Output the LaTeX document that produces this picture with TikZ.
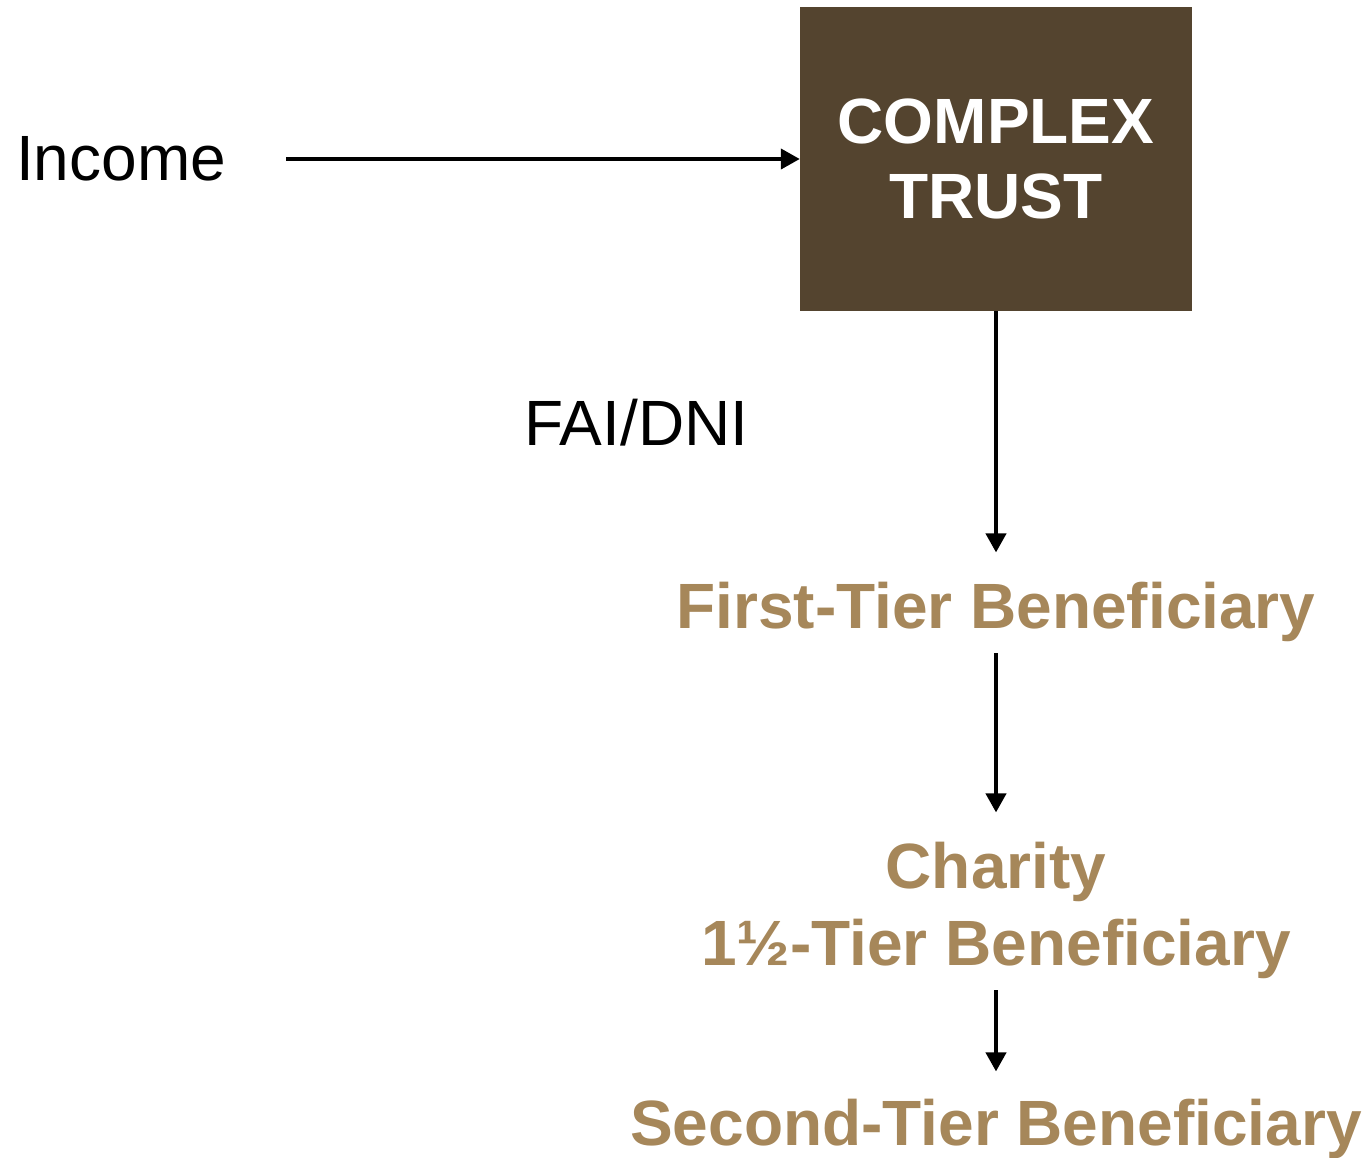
\documentclass[tikz,border=0pt]{standalone}
\usepackage{fontspec}
\setmainfont{Liberation Sans}
\usetikzlibrary{arrows.meta}
\definecolor{trustbrown}{HTML}{54442F}
\definecolor{tiergold}{HTML}{A6875A}
\begin{document}
\begin{tikzpicture}[x=1pt,y=-1pt,
  plain/.style={inner sep=0pt,font=\fontsize{64}{66}\selectfont},
  tier/.style={inner sep=0pt,align=center,text=tiergold,
    font=\fontsize{64}{77}\selectfont\bfseries},
  flow/.style={line width=4pt,-{Triangle[width=20pt,length=19pt]}}]
\useasboundingbox (0,0) rectangle (1367,1157);

% trust box
\node[fill=trustbrown,minimum width=392pt,minimum height=304pt,inner sep=0pt,
  text=white,align=center,font=\fontsize{64}{75}\selectfont\bfseries]
  (trust) at (996,159) {COMPLEX\\TRUST};

% labels
\node[plain,anchor=base west] (income) at (16,180) {Income};
\node[plain,anchor=base west] (fai) at (524,445) {FAI/DNI};

% beneficiaries
\node[tier,anchor=base] (first) at (996,628) {First-Tier Beneficiary};
\node[tier,anchor=base] (charity) at (996,965) {Charity\\1½-Tier Beneficiary};
\node[tier,anchor=base] (second) at (996,1145) {Second-Tier Beneficiary};

% connectors
\draw[flow,shorten <=60pt] (income.east |- trust.west) -- (trust.west);
\draw[flow,shorten >=29pt] (trust.south) -- (first.north);
\draw[flow,shorten <=12pt,shorten >=29pt] (first.south) -- (charity.north);
\draw[flow,shorten <=12pt,shorten >=27pt] (charity.south) -- (second.north);
\end{tikzpicture}
\end{document}
